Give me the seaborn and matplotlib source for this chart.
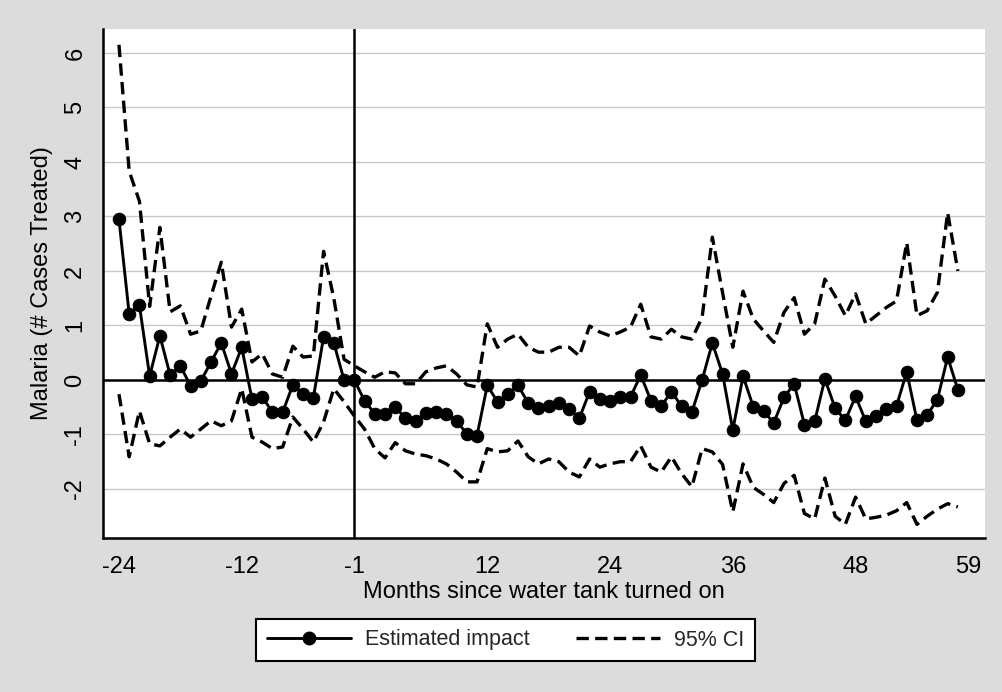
import matplotlib
matplotlib.use("Agg")
import matplotlib.pyplot as plt
from matplotlib.lines import Line2D
import seaborn as sns
import pandas as pd
import numpy as np

months = list(range(-24, 59))

estimate = [2.95, 1.21, 1.37, 0.07, 0.81, 0.09, 0.26, -0.11, -0.02, 0.33,
            0.68, 0.11, 0.60, -0.35, -0.31, -0.59, -0.59, -0.09, -0.26, -0.33,
            0.79, 0.68, 0.00, 0.00, -0.38, -0.62, -0.62, -0.50, -0.70, -0.75,
            -0.60, -0.59, -0.62, -0.75, -0.99, -1.02, -0.10, -0.40, -0.26, -0.10,
            -0.42, -0.51, -0.47, -0.43, -0.53, -0.70, -0.22, -0.35, -0.38, -0.31,
            -0.31, 0.09, -0.38, -0.48, -0.22, -0.48, -0.59, 0.00, 0.68, 0.11,
            -0.92, 0.07, -0.49, -0.57, -0.79, -0.32, -0.07, -0.82, -0.76, 0.02,
            -0.52, -0.74, -0.30, -0.76, -0.67, -0.54, -0.48, 0.15, -0.74, -0.64,
            -0.36, 0.42, -0.18]

ci_upper = [6.15, 3.83, 3.28, 1.35, 2.80, 1.25, 1.36, 0.84, 0.90, 1.54,
            2.16, 0.97, 1.30, 0.33, 0.48, 0.11, 0.05, 0.62, 0.42, 0.44,
            2.36, 1.50, 0.38, 0.26, 0.15, 0.05, 0.15, 0.13, -0.07, -0.07,
            0.15, 0.22, 0.26, 0.11, -0.09, -0.13, 1.03, 0.60, 0.75, 0.84,
            0.60, 0.51, 0.51, 0.60, 0.60, 0.44, 0.99, 0.88, 0.81, 0.88,
            0.97, 1.39, 0.79, 0.75, 0.93, 0.79, 0.75, 1.15, 2.62, 1.60,
            0.60, 1.63, 1.12, 0.90, 0.69, 1.24, 1.51, 0.84, 1.03, 1.85,
            1.54, 1.18, 1.58, 1.03, 1.18, 1.33, 1.45, 2.52, 1.18, 1.27,
            1.61, 3.07, 2.00]

ci_lower = [-0.26, -1.41, -0.57, -1.17, -1.21, -1.05, -0.90, -1.05, -0.90, -0.75,
            -0.84, -0.75, -0.16, -1.05, -1.14, -1.26, -1.23, -0.68, -0.90, -1.14,
            -0.77, -0.16, -0.40, -0.66, -0.90, -1.26, -1.43, -1.15, -1.30, -1.36,
            -1.39, -1.45, -1.54, -1.69, -1.87, -1.87, -1.26, -1.32, -1.30, -1.12,
            -1.41, -1.54, -1.45, -1.50, -1.69, -1.78, -1.45, -1.60, -1.54, -1.50,
            -1.50, -1.21, -1.60, -1.69, -1.41, -1.72, -1.96, -1.26, -1.32, -1.55,
            -2.42, -1.54, -1.97, -2.10, -2.25, -1.90, -1.75, -2.45, -2.55, -1.80,
            -2.50, -2.65, -2.15, -2.55, -2.52, -2.48, -2.40, -2.25, -2.65, -2.50,
            -2.37, -2.27, -2.33]

x_ticks = [-24, -12, -1, 12, 24, 36, 48, 59]
y_ticks = [-2, -1, 0, 1, 2, 3, 4, 5, 6]

df = pd.DataFrame({"month": months, "estimate": estimate,
                   "upper": ci_upper, "lower": ci_lower})

sns.set_style("white")
plt.rcParams["font.family"] = ["Liberation Sans", "DejaVu Sans"]

bg = "#dcdcdc"
LW = 2.1
LWD = 2.4
dash = (3.7, 1.9)

fig = plt.figure(figsize=(10.03, 6.92), dpi=100, facecolor=bg)
ax = fig.add_axes([103 / 1003, 1 - 538 / 692, (985 - 103) / 1003, (538 - 29) / 692])
ax.set_facecolor("white")

ax.set_xlim(-25.56, 60.65)
ax.set_ylim(-2.9, 6.44)

for yv in y_ticks:
    ax.axhline(yv, color="#c8c8c8", lw=1.0, zorder=0)

ax.axhline(0, color="black", lw=1.8, zorder=1)
ax.axvline(-1, color="black", lw=1.8, zorder=1)

n0 = len(ax.lines)
sns.lineplot(data=df, x="month", y="upper", ax=ax, color="black",
             linewidth=LWD, zorder=2, legend=False)
sns.lineplot(data=df, x="month", y="lower", ax=ax, color="black",
             linewidth=LWD, zorder=2, legend=False)
for ln in ax.lines[n0:]:
    ln.set_linewidth(LWD)
    ln.set_dashes(dash)
n1 = len(ax.lines)
sns.lineplot(data=df, x="month", y="estimate", ax=ax, color="black",
             linewidth=LW, marker="o", markersize=9, markeredgecolor="black",
             markerfacecolor="black", zorder=3, legend=False)
for ln in ax.lines[n1:]:
    ln.set_linewidth(LW)

ax.set_xticks(x_ticks)
ax.set_xticklabels([str(v) for v in x_ticks])
ax.set_yticks(y_ticks)
ax.set_yticklabels([str(v) for v in y_ticks])
ax.tick_params(axis="both", direction="out", length=7, width=1.5,
               color="black", labelsize=17, labelcolor="black")
ax.tick_params(axis="x", pad=6)
ax.tick_params(axis="y", pad=5)
for lbl in ax.get_yticklabels():
    lbl.set_rotation(90)
    lbl.set_va("center")

ax.set_xlabel("Months since water tank turned on", fontsize=17, labelpad=2,
              color="black")
ax.set_ylabel("Malaria (# Cases Treated)", fontsize=17, labelpad=8,
              color="black")

for side in ["top", "right"]:
    ax.spines[side].set_visible(False)
for side in ["left", "bottom"]:
    ax.spines[side].set_visible(True)
    ax.spines[side].set_color("black")
    ax.spines[side].set_linewidth(1.8)

handles = [
    Line2D([0], [0], color="black", lw=LW, marker="o", markersize=9),
    Line2D([0], [0], color="black", lw=LWD, dashes=dash),
]
leg = fig.legend(handles, ["Estimated impact", "95% CI"], loc="center",
                 bbox_to_anchor=(505.5 / 1003, 1 - 640 / 692), ncol=2,
                 fontsize=15.5, frameon=True, fancybox=False, edgecolor="black",
                 facecolor="white", framealpha=1, handlelength=3.9,
                 columnspacing=2.15, borderpad=0.5, handletextpad=0.65)
leg.get_frame().set_linewidth(1.5)

fig.savefig("out.png", dpi=100, facecolor=bg)
